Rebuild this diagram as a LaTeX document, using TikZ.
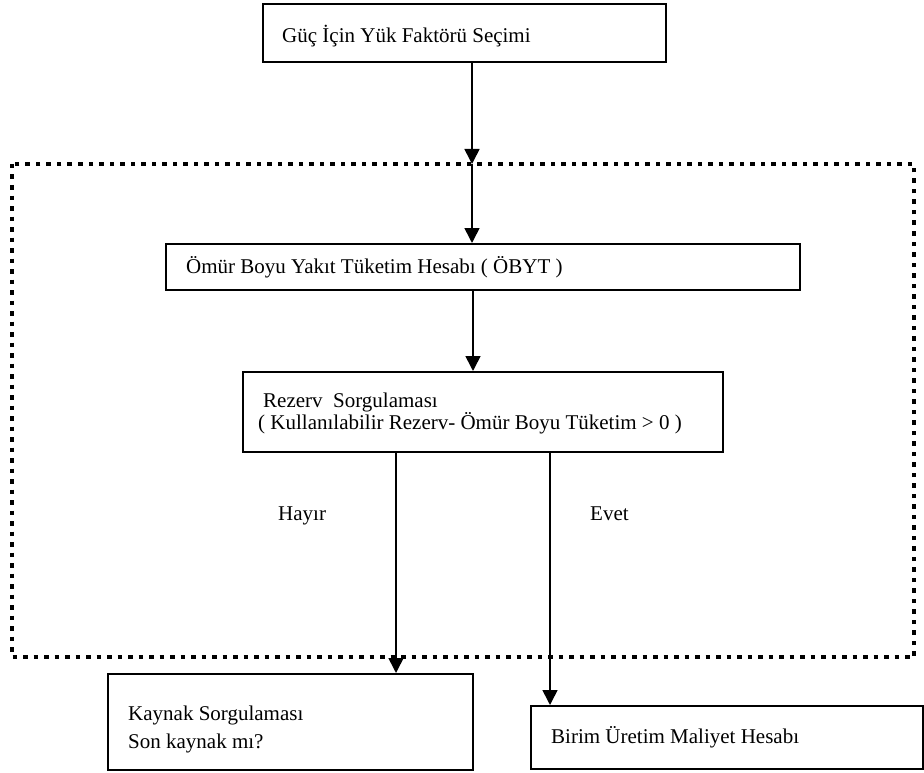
\documentclass[tikz,border=0pt]{standalone}
\usepackage{fontspec}
\setmainfont{Liberation Serif}
\usetikzlibrary{arrows.meta}
\begin{document}
\begin{tikzpicture}[x=1pt,y=-1pt,
  box/.style={draw,line width=1.8pt,inner sep=0pt,anchor=north west},
  txt/.style={anchor=base west,inner sep=0pt,font=\fontsize{21}{22}\selectfont},
  arr/.style={line width=1.6pt,-{Triangle[length=15pt,width=15pt]}},
  frame/.style={line width=4.5pt,dash pattern=on 4.5pt off 6pt}]
\useasboundingbox (0,0) rectangle (924,773);
\draw[frame] (12,164) rectangle (914,657);
% boxes
\node[box,minimum width=403pt,minimum height=58pt] (top) at (262,3) {};
\node[box,minimum width=634pt,minimum height=46pt] (omur) at (165,243) {};
\node[box,minimum width=480pt,minimum height=80pt] (rez) at (242,371) {};
\node[box,minimum width=365pt,minimum height=96pt] (kay) at (107,673) {};
\node[box,minimum width=392pt,minimum height=63pt] (bir) at (530,705) {};
% texts
\node[txt] (t1) at (282,43) {Güç İçin Yük Faktörü Seçimi};
\node[txt] (t2) at (186,273) {Ömür Boyu Yakıt Tüketim Hesabı ( ÖBYT )};
\node[txt] (t3) at (263,407) {Rezerv\ \ Sorgulaması};
\node[txt] (t4) at (258,429) {( Kullanılabilir Rezerv- Ömür Boyu Tüketim > 0 )};
\node[txt] (t5) at (128,720) {Kaynak Sorgulaması};
\node[txt] (t6) at (128,748) {Son kaynak mı?};
\node[txt] (t7) at (551,743) {Birim Üretim Maliyet Hesabı};
\node[txt] (hay) at (278,520) {Hayır};
\node[txt] (evet) at (590,520) {Evet};
% connectors
\coordinate (f1) at (472,164);
\coordinate (a2) at (473,300);
\coordinate (cl) at (396,451);
\coordinate (cr) at (550,451);
\draw[arr] (top.south -| f1) -- (f1);
\draw[arr] (f1) -- (omur.north -| f1);
\draw[arr] (omur.south -| a2) -- (rez.north -| a2);
\draw[arr] (rez.south -| cl) -- (kay.north -| cl);
\draw[arr] (rez.south -| cr) -- (bir.north -| cr);
\end{tikzpicture}
\end{document}
